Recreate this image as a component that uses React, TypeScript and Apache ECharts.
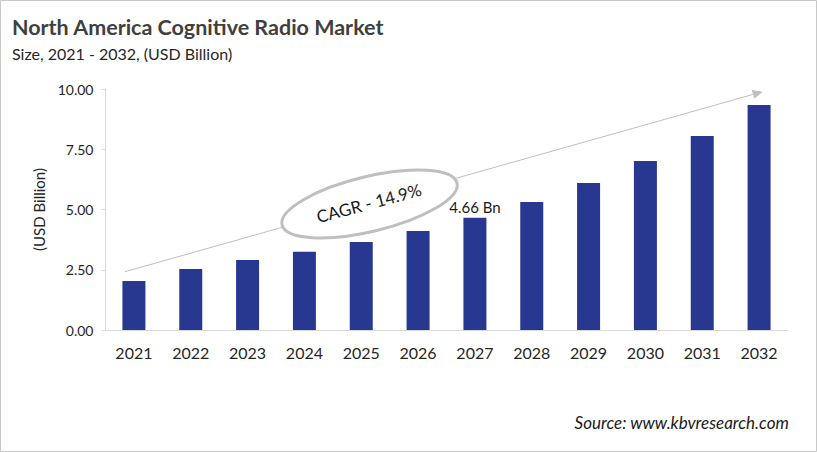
import React, { useEffect, useRef } from "react";
import * as echarts from "echarts";

const years = ["2021", "2022", "2023", "2024", "2025", "2026", "2027", "2028", "2029", "2030", "2031", "2032"];
const marketSize = [2.03, 2.53, 2.9, 3.25, 3.65, 4.11, 4.66, 5.31, 6.1, 7.01, 8.05, 9.34];
const labelledIndex = 6;
const labelText = "4.66 Bn";
const yTicks = { min: 0, max: 10, interval: 2.5 };
const titleText = "North America Cognitive Radio Market";
const subtitleText = "Size, 2021 - 2032, (USD Billion)";
const cagrText = "CAGR - 14.9%";
const sourceText = "Source: www.kbvresearch.com";

const FONT = "Lato, 'Open Sans', sans-serif";

export default function App() {
  const ref = useRef<HTMLDivElement>(null);
  useEffect(() => {
    document.body.style.margin = "0";
    const chart = echarts.init(ref.current!, null, { renderer: "svg" });
    const tip = [762.7, 91.7];
    const start = [125, 271.7];
    const dx = tip[0] - start[0];
    const dy = tip[1] - start[1];
    const len = Math.sqrt(dx * dx + dy * dy);
    const ux = dx / len, uy = dy / len;
    const bx = tip[0] - 10 * ux, by = tip[1] - 10 * uy;
    const nx = -uy * 4.5, ny = ux * 4.5;
    chart.setOption({
      animation: false,
      backgroundColor: "#ffffff",
      grid: { left: 105.5, right: 29.5, top: 89, bottom: 122, containLabel: false },
      xAxis: {
        type: "category",
        data: years,
        axisLine: { show: true, lineStyle: { color: "#d9d9d9", width: 1 } },
        axisTick: { show: false },
        axisLabel: { color: "#262626", fontSize: 16, fontFamily: FONT, margin: 14 },
      },
      yAxis: {
        type: "value",
        min: yTicks.min,
        max: yTicks.max,
        interval: yTicks.interval,
        name: "(USD Billion)",
        nameLocation: "middle",
        nameGap: 52,
        nameTextStyle: { color: "#262626", fontSize: 15, fontFamily: FONT },
        axisLine: { show: true, lineStyle: { color: "#d9d9d9", width: 1 } },
        axisTick: { show: true, length: 4, lineStyle: { color: "#d9d9d9" } },
        splitLine: { show: false },
        axisLabel: {
          color: "#262626",
          fontSize: 14,
          fontFamily: FONT,
          margin: 12,
          formatter: (v: number) => v.toFixed(2),
        },
      },
      series: [
        {
          type: "bar",
          data: marketSize.map((v, i) =>
            i === labelledIndex
              ? {
                  value: v,
                  label: {
                    show: true,
                    position: "top",
                    distance: 3,
                    formatter: labelText,
                    color: "#1a1a1a",
                    fontSize: 15,
                    fontFamily: FONT,
                  },
                }
              : v
          ),
          barWidth: 23,
          itemStyle: { color: "#283891" },
        },
      ],
      graphic: [
        {
          type: "rect",
          shape: { x: 0.5, y: 0.5, width: 816, height: 451 },
          style: { fill: "none", stroke: "#c8c8c8", lineWidth: 1 },
          silent: true,
        },
        {
          type: "text",
          left: 12,
          top: 16,
          style: { text: titleText, fill: "#404040", font: `bold 21.5px ${FONT}` },
        },
        {
          type: "text",
          left: 12,
          top: 45,
          style: { text: subtitleText, fill: "#262626", font: `16px ${FONT}` },
        },
        {
          type: "line",
          shape: { x1: start[0], y1: start[1], x2: bx, y2: by },
          style: { stroke: "#bfbfbf", lineWidth: 1 },
          z: 10,
        },
        {
          type: "polygon",
          shape: { points: [[tip[0], tip[1]], [bx + nx, by + ny], [bx - nx, by - ny]] },
          style: { fill: "#bfbfbf" },
          z: 10,
        },
        {
          type: "ellipse",
          x: 369.5,
          y: 204,
          rotation: (13.5 * Math.PI) / 180,
          shape: { cx: 0, cy: 0, rx: 90, ry: 27.5 },
          style: { fill: "#ffffff", stroke: "#bfbfbf", lineWidth: 3 },
          z: 11,
        },
        {
          type: "text",
          x: 369,
          y: 203,
          rotation: (15 * Math.PI) / 180,
          style: {
            text: cagrText,
            fill: "#1a1a1a",
            font: `17px ${FONT}`,
            align: "center",
            verticalAlign: "middle",
          },
          z: 12,
        },
        {
          type: "text",
          right: 28,
          top: 414,
          style: { text: sourceText, fill: "#1a1a1a", font: `italic 17px ${FONT}` },
        },
      ],
    });
    return () => chart.dispose();
  }, []);
  return <div ref={ref} style={{ width: 817, height: 452 }} />;
}
